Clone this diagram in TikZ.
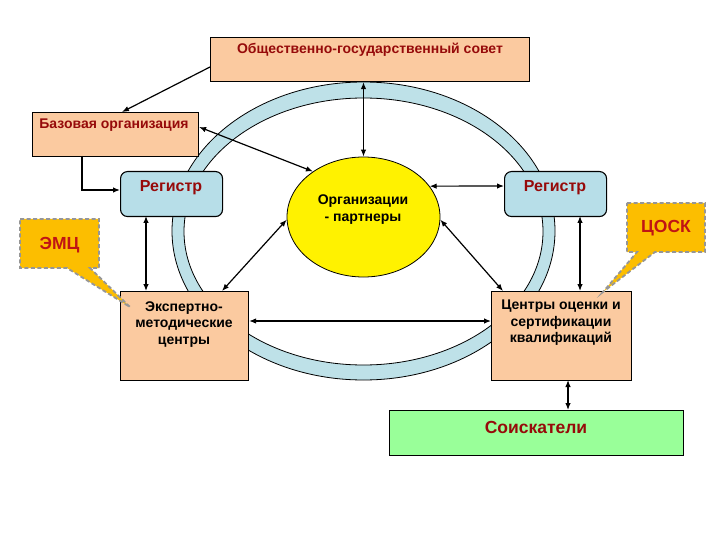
\documentclass[tikz,border=0pt]{standalone}
\usepackage{fontspec}
\setmainfont{Liberation Sans}
\usetikzlibrary{arrows.meta,shapes.geometric}
\definecolor{peach}{RGB}{251,202,160}
\definecolor{regblue}{RGB}{183,222,232}
\definecolor{ringblue}{RGB}{190,225,232}
\definecolor{darkred}{RGB}{150,10,10}
\definecolor{callorange}{RGB}{252,190,0}
\definecolor{callgray}{RGB}{150,150,150}
\definecolor{lgreen}{RGB}{153,255,153}
\definecolor{brightred}{RGB}{192,20,20}
\tikzset{
  pbox/.style={draw=black, line width=1.1pt, fill=peach, inner sep=0pt, anchor=north west},
  regbox/.style={draw=black, line width=1.1pt, fill=regblue, rounded corners=7pt, inner sep=0pt, anchor=north west},
  gbox/.style={draw=black, line width=1.1pt, fill=lgreen, inner sep=0pt, anchor=north west},
  rtext/.style={font=\bfseries\fontsize{14}{16}\selectfont, text=darkred, inner sep=0pt},
  regtext/.style={font=\bfseries\fontsize{16}{18}\selectfont, text=darkred, inner sep=0pt},
  btext/.style={font=\bfseries\fontsize{14}{16.5}\selectfont, text=black, inner sep=0pt, align=center},
  bigred/.style={font=\bfseries\fontsize{17.5}{20}\selectfont, text=darkred, inner sep=0pt},
  callout/.style={draw=callgray, line width=1.8pt, dash pattern=on 4pt off 2.5pt, fill=callorange},
  dbl/.style={{Latex[length=7pt,width=5.5pt]}-{Latex[length=7pt,width=5.5pt]}, line width=1.2pt},
  sgl/.style={-{Latex[length=7pt,width=5.5pt]}, line width=1.2pt},
}
\begin{document}
\begin{tikzpicture}[x=1pt,y=-1pt]
\useasboundingbox (0,0) rectangle (720,540);
\fill[white] (0,0) rectangle (720,540);
% ring
\fill[ringblue, even odd rule] (363.5,231) ellipse [x radius=191.5, y radius=149]
  (363.5,231.5) ellipse [x radius=179.5, y radius=133.5];
\draw[line width=0.8pt] (363.5,231) ellipse [x radius=191.5, y radius=149];
\draw[line width=0.8pt] (363.5,231.5) ellipse [x radius=179.5, y radius=133.5];
% boxes
\node[pbox, minimum width=319, minimum height=44] (council) at (210,37) {};
\node[rtext] (councilT) at (370,50) {Общественно-государственный совет};
\node[pbox, minimum width=166, minimum height=44] (base) at (32,112) {};
\node[rtext] (baseT) at (114,125) {Базовая организация};
\node[regbox, minimum width=102, minimum height=45] (regL) at (120,171) {};
\node[regtext] (regLT) at (171,188) {Регистр};
\node[regbox, minimum width=102, minimum height=45] (regR) at (504,171) {};
\node[regtext] (regRT) at (555,188) {Регистр};
\node[draw=black, line width=0.8pt, fill=yellow, ellipse, minimum width=153, minimum height=120, inner sep=0pt] (org) at (363.5,217) {};
\node[btext] (orgT) at (363,209.5) {Организации\\- партнеры};
\node[pbox, minimum width=128, minimum height=89] (expert) at (120,291) {};
\node[btext] (expertT) at (184,324.5) {Экспертно-\\методические\\центры};
\node[pbox, minimum width=140, minimum height=89] (centers) at (491,291) {};
\node[btext] (centersT) at (561,323) {Центры оценки и\\сертификации\\квалификаций};
\node[gbox, minimum width=294, minimum height=45] (seek) at (389,410) {};
\node[bigred] (seekT) at (536,427) {Соискатели};
% callouts
\draw[callout] (20,219) -- (99,219) -- (99,268) -- (90,268) -- (130,307) -- (67,268) -- (20,268) -- cycle;
\node[bigred, text=brightred] (emc) at (59.5,245) {ЭМЦ};
\draw[callout] (627,203) -- (705,203) -- (705,252) -- (655,252) -- (603,292) -- (637,252) -- (627,252) -- cycle;
\node[bigred, text=brightred] (tsosk) at (666,228) {ЦОСК};
% connectors
\draw[sgl] (council.west |- 0,67) -- (122,112);
\draw[dbl] (base.east |- 0,127) -- (org.138);
\draw[sgl] (82,156) |- (regL.west |- 0,190);
\draw[dbl] (council.south -| org.north) -- (org.north);
\draw[dbl] (org.25) -- (regR.west |- 0,186);
\draw[dbl] (146,216) -- (146,291);
\draw[dbl] (org.182) -- (222,291);
\draw[dbl] (org.-2) -- (503,291);
\draw[dbl] (580,216) -- (580,291);
\draw[dbl] (expert.east |- 0,321) -- (centers.west |- 0,321);
\draw[dbl] (568,380) -- (568,410);
\end{tikzpicture}
\end{document}
